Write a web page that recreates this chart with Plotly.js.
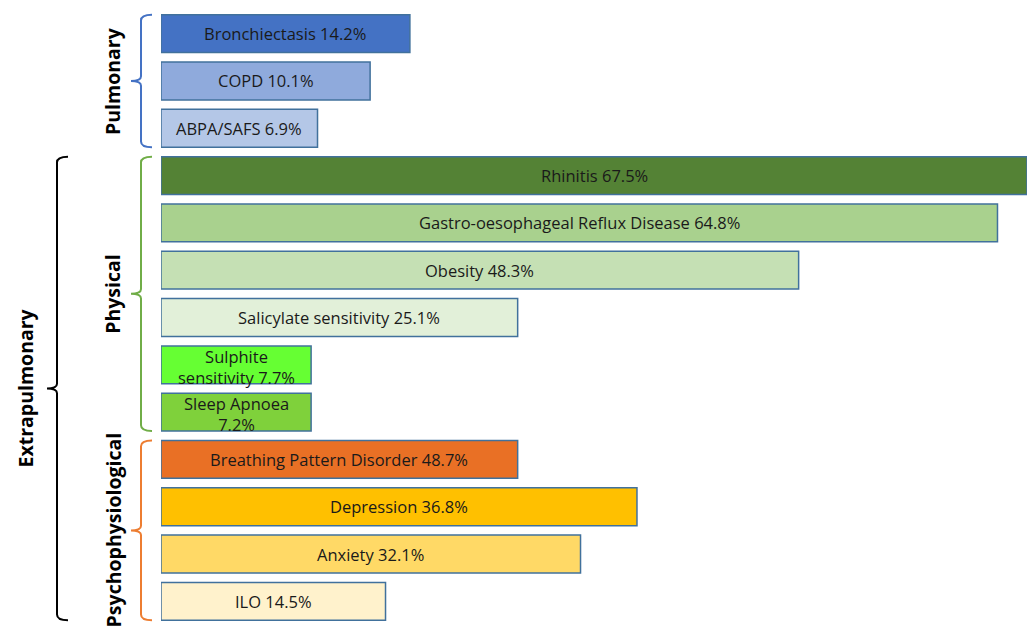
<!DOCTYPE html>
<html>
<head>
<meta charset="utf-8">
<script src="https://cdn.plot.ly/plotly-3.0.1.min.js"></script>
<style>html,body{margin:0;padding:0;background:#fff;}#chart{width:1031px;height:628px;}</style>
</head>
<body>
<div id="chart"></div>
<script>
// Conditions (top to bottom)
const conditions = [
  "Bronchiectasis", "COPD", "ABPA/SAFS",
  "Rhinitis", "Gastro-oesophageal Reflux Disease", "Obesity", "Salicylate sensitivity",
  "Sulphite<br>sensitivity", "Sleep Apnoea<br>",
  "Breathing Pattern Disorder", "Depression", "Anxiety", "ILO"
];
// Prevalence shown in each label (%)
const prevalence = [14.2, 10.1, 6.9, 67.5, 64.8, 48.3, 25.1, 7.7, 7.2, 48.7, 36.8, 32.1, 14.5];
// Bar lengths as drawn in the original figure (not proportional to the labels)
const drawnLength = [19.4, 16.3, 12.2, 67.5, 65.2, 49.7, 27.8, 11.7, 11.7, 27.8, 37.1, 32.7, 17.5];
const barColors = [
  "#4472C4", "#8FAADC", "#B4C7E7",
  "#548235", "#A9D18E", "#C5E0B4", "#E2F0D9", "#66FF33", "#7FD13B",
  "#E97025", "#FFC000", "#FFD966", "#FFF2CC"
];
// Groups: [label, first index, last index, colour, level]
const groups = [
  ["Pulmonary", 0, 2, "#4472C4", 1],
  ["Physical", 3, 8, "#70AD47", 1],
  ["Psychophysiological", 9, 12, "#ED7D31", 1],
  ["Extrapulmonary", 3, 12, "#000000", 0]
];

const positions = conditions.map((_, i) => i);
const labels = conditions.map((c, i) => c + (c.endsWith("<br>") ? "" : " ") + prevalence[i] + "%");

const trace = {
  type: "bar",
  orientation: "h",
  x: drawnLength,
  y: positions,
  width: 0.8,
  marker: {color: barColors, line: {color: "#41719C", width: 1.5}},
  hoverinfo: "skip"
};

const L = 161, R = 4, T = 10, B = 3, W = 1031, H = 628;
const plotW = W - L - R, plotH = H - T - B;
const yMin = -0.5, yMax = 12.5;
const px2paperX = px => (px - L) / plotW;
const y2paper = y => 1 - (y - yMin) / (yMax - yMin);

const shapes = [];
const annotations = [];

// bar labels centred on each bar
positions.forEach((p, i) => {
  annotations.push({
    xref: "x", yref: "y", x: drawnLength[i] / 2, y: p, yshift: labels[i].includes("<br>") ? -2 : 0,
    text: labels[i], showarrow: false, xanchor: "center", yanchor: "middle",
    font: {family: "Open Sans", size: 16.5, color: "#1a1a1a"}
  });
});

groups.forEach(g => {
  const [name, a, b, col, level] = g;
  const top = a - 0.4, bot = b + 0.4, mid = (top + bot) / 2;
  const vx = level === 1 ? 141 : 57;
  const tx = vx + 11;
  const pxp = vx - 10;
  const dy = 0.12;
  const X = v => px2paperX(v).toFixed(5);
  const Y = v => y2paper(v).toFixed(5);
  const path = `M ${X(tx)} ${Y(top)} Q ${X(vx)} ${Y(top)} ${X(vx)} ${Y(top + dy)} ` +
    `L ${X(vx)} ${Y(mid - 0.1)} Q ${X(vx)} ${Y(mid)} ${X(pxp)} ${Y(mid)} ` +
    `Q ${X(vx)} ${Y(mid)} ${X(vx)} ${Y(mid + 0.1)} L ${X(vx)} ${Y(bot - dy)} ` +
    `Q ${X(vx)} ${Y(bot)} ${X(tx)} ${Y(bot)}`;
  shapes.push({
    type: "path", xref: "paper", yref: "paper",
    path: path, line: {color: col, width: 2}
  });
  const lx = level === 1 ? 113 : 25;
  annotations.push({
    xref: "paper", yref: "y", x: px2paperX(lx), y: mid,
    text: "<b>" + name + "</b>", showarrow: false, textangle: -90,
    xanchor: "center", yanchor: "middle",
    font: {family: "Open Sans", size: 19.5, color: "#000"}
  });
});

const layout = {
  width: W, height: H,
  margin: {l: L, r: R, t: T, b: B},
  paper_bgcolor: "#fff", plot_bgcolor: "#fff",
  showlegend: false,
  xaxis: {range: [0, 67.5], visible: false, fixedrange: true},
  yaxis: {range: [yMax, yMin], visible: false, fixedrange: true},
  shapes: shapes,
  annotations: annotations
};

Plotly.newPlot("chart", [trace], layout, {displayModeBar: false, staticPlot: true});
</script>
</body>
</html>
